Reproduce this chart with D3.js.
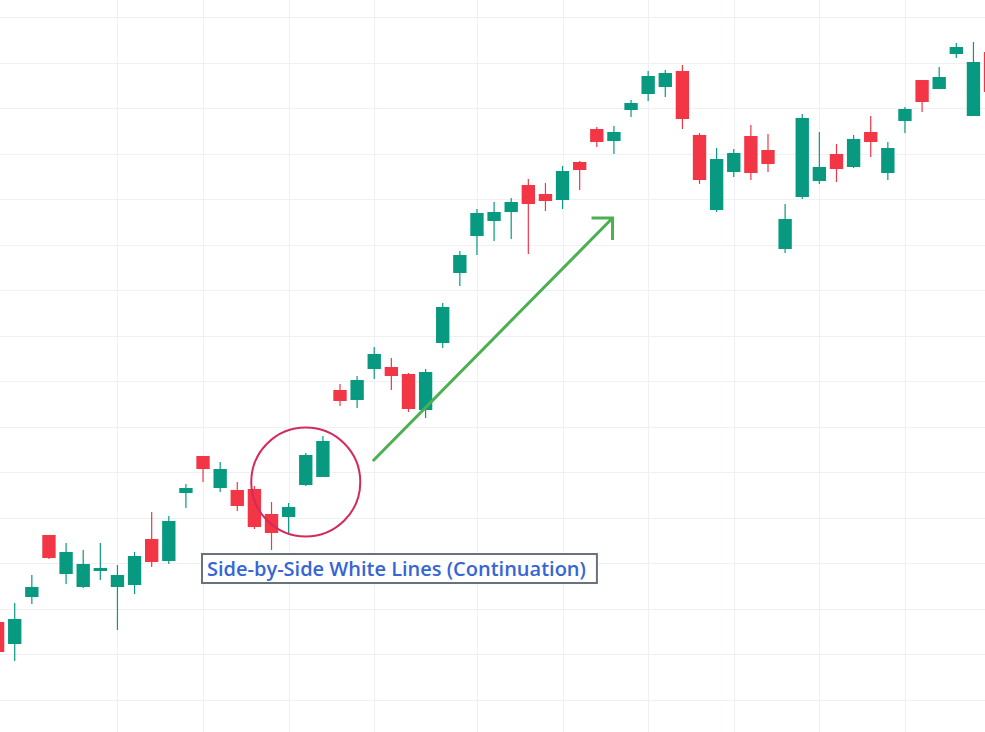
<!DOCTYPE html>
<html>
<head>
<meta charset="utf-8">
<script src="https://cdn.jsdelivr.net/npm/d3@7"></script>
<style>
  body { margin: 0; background: #ffffff; }
  svg { display: block; }
</style>
</head>
<body>
<div id="chart"></div>
<script>
// daily OHLC, one entry per session (left to right)
var opens  = [117.13, 112.30, 122.62, 136.24, 127.67, 124.82, 128.33, 124.82, 125.26, 135.36,
              130.53, 145.46, 153.59, 146.56, 146.12, 146.34, 140.85, 140.19, 147.22, 148.98,
              168.08, 165.89, 172.69, 173.13, 171.60, 163.69, 178.40, 193.78, 201.90, 205.20,
              207.17, 213.10, 211.13, 209.81, 218.16, 225.40, 222.77, 229.58, 233.09, 234.63,
              238.14, 224.09, 207.61, 215.96, 223.87, 220.79, 199.05, 210.47, 213.98, 219.91,
              217.06, 224.74, 215.74, 227.16, 236.16, 234.19, 241.87, 228.26, 242.31];
var highs  = [117.57, 121.30, 127.45, 136.24, 134.48, 132.94, 134.48, 129.65, 132.50, 141.29,
              140.41, 147.44, 153.59, 152.27, 147.88, 147.00, 143.48, 143.27, 154.25, 157.98,
              169.40, 171.16, 177.53, 175.11, 171.82, 172.69, 187.19, 198.61, 207.83, 209.37,
              210.25, 214.42, 213.54, 217.28, 218.38, 225.84, 226.06, 231.77, 238.14, 238.36,
              239.46, 224.52, 221.23, 221.01, 226.28, 224.30, 208.93, 228.70, 224.74, 222.11,
              224.09, 228.26, 222.55, 230.23, 236.16, 239.02, 244.29, 244.51, 243.19];
var lows   = [110.10, 108.57, 121.08, 130.97, 125.48, 124.60, 126.35, 115.37, 123.28, 129.21,
              129.87, 142.17, 147.88, 145.68, 141.51, 137.56, 132.94, 136.68, 147.00, 148.98,
              164.57, 164.13, 170.50, 168.08, 163.25, 161.93, 177.31, 190.92, 197.73, 200.81,
              201.24, 197.95, 207.39, 207.83, 212.01, 221.45, 219.91, 228.04, 231.55, 232.43,
              225.40, 213.32, 207.17, 214.86, 214.20, 215.96, 198.17, 210.03, 213.32, 213.76,
              216.84, 219.25, 214.20, 224.52, 229.14, 234.19, 241.00, 228.26, 232.65];
var closes = [110.54, 117.79, 124.82, 131.19, 132.50, 129.87, 128.99, 127.45, 131.63, 130.31,
              139.31, 146.56, 150.73, 150.73, 142.61, 137.99, 136.68, 142.39, 153.81, 156.88,
              165.67, 170.28, 175.99, 171.16, 163.91, 172.04, 186.31, 197.73, 206.95, 207.17,
              209.37, 208.93, 209.59, 216.18, 216.40, 222.55, 224.74, 231.11, 237.04, 237.70,
              227.60, 214.20, 218.81, 220.13, 215.74, 217.72, 205.64, 227.82, 217.06, 216.62,
              223.21, 222.55, 221.23, 229.80, 231.33, 236.82, 243.41, 240.12, 233.53];

// sessions that start a new week (vertical grid)
var weekStarts = [7, 12, 17, 22, 28, 33, 38, 43, 48, 53];
// price grid levels
var priceTicks = [100, 110, 120, 130, 140, 150, 160, 170, 180, 190, 200, 210, 220, 230, 240, 250];

// annotations (session index, price)
var patternLabel = "Side-by-Side White Lines (Continuation)";
var patternCircle = {i: 18, price: 147.88};
var trendArrow = {i0: 21.92, p0: 152.49, i1: 35.92, p1: 205.86};
var labelAnchor = {i: 11.94, price: 132.06};

var width = 985, height = 732;

var candles = opens.map(function(o, i){
  return {i: i, open: o, high: highs[i], low: lows[i], close: closes[i]};
});

var xScale = d3.scaleBand()
    .domain(d3.range(candles.length))
    .range([-10.96, -10.96 + 17.12 * candles.length]);

var yScale = d3.scaleLinear()
    .domain([100, 250])
    .range([700, 17]);

var step = xScale.step(),
    bodyW = step * 0.78;

// center of a (possibly fractional) session index
function xAt(i){
  return xScale(0) + step / 2 + i * step;
}

var svg = d3.select("#chart").append("svg")
    .attr("width", width)
    .attr("height", height);

svg.append("rect")
    .attr("width", width)
    .attr("height", height)
    .attr("fill", "#ffffff");

var grid = svg.append("g").attr("class", "grid");

grid.selectAll(".hline")
    .data(priceTicks)
    .enter()
    .append("line")
    .attr("class", "hline")
    .attr("x1", 0)
    .attr("x2", width)
    .attr("y1", function(d){ return Math.round(yScale(d)) + 0.5; })
    .attr("y2", function(d){ return Math.round(yScale(d)) + 0.5; })
    .attr("stroke", "#eef0f4")
    .attr("stroke-width", 1);

grid.selectAll(".vline")
    .data(weekStarts)
    .enter()
    .append("line")
    .attr("class", "vline")
    .attr("y1", 0)
    .attr("y2", height)
    .attr("x1", function(d){ return Math.round(xAt(d)) + 0.5; })
    .attr("x2", function(d){ return Math.round(xAt(d)) + 0.5; })
    .attr("stroke", "#eef0f4")
    .attr("stroke-width", 1);

var up = "#089981", down = "#f23645";

var candle = svg.append("g").attr("class", "candles")
    .selectAll("g")
    .data(candles)
    .enter()
    .append("g");

candle.append("line")
    .attr("x1", function(d){ return xAt(d.i); })
    .attr("x2", function(d){ return xAt(d.i); })
    .attr("y1", function(d){ return yScale(d.high); })
    .attr("y2", function(d){ return yScale(d.low); })
    .attr("stroke", function(d){ return d.close >= d.open ? up : down; })
    .attr("stroke-width", 1.2);

candle.append("rect")
    .attr("x", function(d){ return xAt(d.i) - bodyW / 2; })
    .attr("y", function(d){ return yScale(Math.max(d.open, d.close)); })
    .attr("width", bodyW)
    .attr("height", function(d){ return Math.max(1, Math.abs(yScale(d.open) - yScale(d.close))); })
    .attr("fill", function(d){ return d.close >= d.open ? up : down; });

// circle round the pattern
svg.append("circle")
    .attr("cx", xAt(patternCircle.i))
    .attr("cy", yScale(patternCircle.price))
    .attr("r", 54.5)
    .attr("fill", "none")
    .attr("stroke", "#d42a5c")
    .attr("stroke-width", 2);

// trend arrow
var ax0 = xAt(trendArrow.i0), ay0 = yScale(trendArrow.p0),
    ax1 = xAt(trendArrow.i1), ay1 = yScale(trendArrow.p1);

svg.append("path")
    .attr("d", "M" + ax0 + "," + ay0 + "L" + ax1 + "," + ay1 +
               "M" + (ax1 - 21) + "," + ay1 + "L" + ax1 + "," + ay1 + "L" + ax1 + "," + (ay1 + 22))
    .attr("fill", "none")
    .attr("stroke", "#4caf50")
    .attr("stroke-width", 3)
    .attr("stroke-linejoin", "miter");

// label box
var lx = xAt(labelAnchor.i), ly = yScale(labelAnchor.price);

var label = svg.append("g")
    .attr("transform", "translate(" + lx + "," + ly + ")");

var labelText = label.append("text")
    .attr("x", 5)
    .attr("y", 21.5)
    .attr("font-family", "Open Sans")
    .attr("font-size", "20px")
    .attr("font-weight", 600)
    .attr("fill", "#3565d6")
    .text(patternLabel);

var tw = labelText.node().getComputedTextLength();

label.insert("rect", "text")
    .attr("x", 0)
    .attr("y", 0)
    .attr("width", tw + 16)
    .attr("height", 29)
    .attr("fill", "#ffffff")
    .attr("stroke", "#67727b")
    .attr("stroke-width", 2);
</script>
</body>
</html>
